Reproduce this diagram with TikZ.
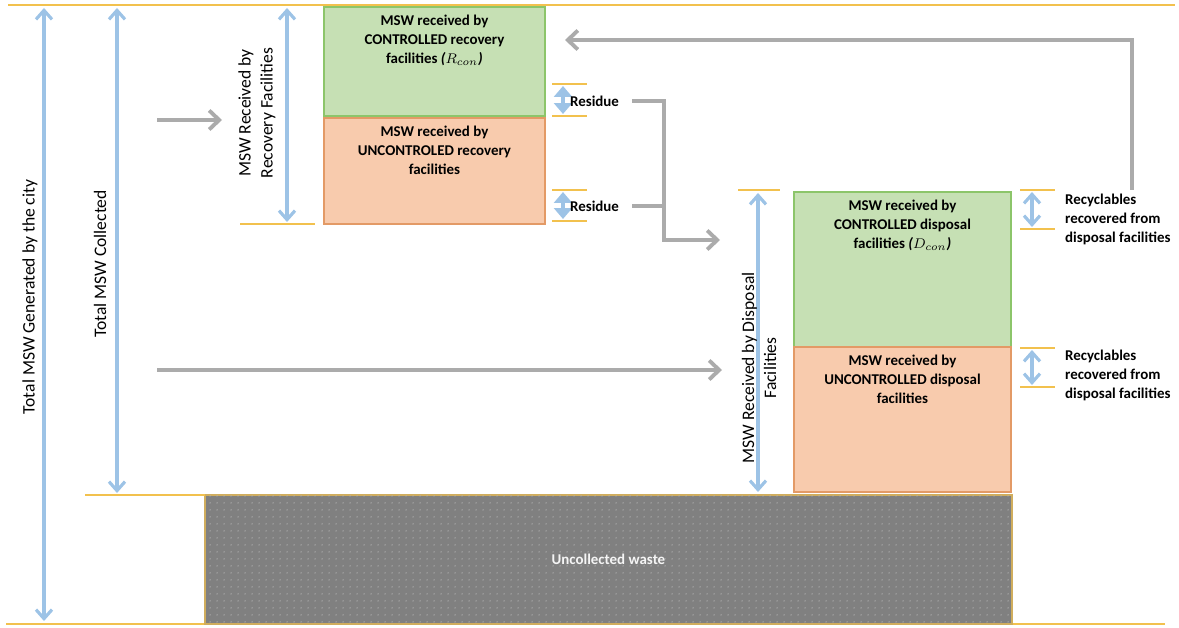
\documentclass[tikz,border=0pt]{standalone}
\usepackage{fontspec}
\setmainfont{Carlito}
\usetikzlibrary{arrows.meta,positioning,patterns.meta}
\definecolor{sizeblue}{HTML}{9DC3E6}
\definecolor{limityellow}{HTML}{F2C14E}
\definecolor{flowgray}{HTML}{ABABAB}
\definecolor{ctrlfill}{HTML}{C6E0B4}
\definecolor{ctrldraw}{HTML}{8CC56A}
\definecolor{unctrlfill}{HTML}{F8CBAD}
\definecolor{unctrldraw}{HTML}{E39A66}
\definecolor{wastefill}{HTML}{808080}
\tikzset{
  limit/.style={limityellow, line width=1.3pt},
  span/.style={sizeblue, line width=1.8pt,
    {Straight Barb[length=1.8mm,width=3.2mm]}-{Straight Barb[length=1.8mm,width=3.2mm]}},
  smallspan/.style={sizeblue, line width=1.8pt,
    {Triangle[length=2.2mm,width=3.6mm]}-{Triangle[length=2.2mm,width=3.6mm]}},
  flow/.style={flowgray, line width=2.2pt, -{Straight Barb[length=2mm,width=3.8mm]}},
  facility/.style={inner sep=0pt, outer sep=0pt, line width=0.8pt, anchor=north west},
  ctrlbox/.style={facility, draw=ctrldraw, fill=ctrlfill},
  unctrlbox/.style={facility, draw=unctrldraw, fill=unctrlfill},
  boxtext/.style={font=\bfseries\fontsize{8.5}{10.8}\selectfont, align=center, inner sep=0pt},
  sidenote/.style={font=\bfseries\fontsize{8.5}{10.8}\selectfont, align=left, anchor=west, inner sep=1pt},
  sidetext/.style={font=\fontsize{10}{12.5}\selectfont, rotate=90, align=center, inner sep=0pt},
}

\begin{document}
\begin{tikzpicture}[x=0.02cm, y=-0.02cm]
  \useasboundingbox (0,0) rectangle (1179,628);

  % top and bottom limits
  \draw[limit] (8,5) -- (1175,5);
  \draw[limit] (6,624) -- (1165,624);

  % uncollected waste
  \node[facility, draw=limityellow!70!gray, fill=wastefill,
        minimum width=16.14cm, minimum height=2.58cm,
        postaction={pattern={Dots[distance=4pt,radius=0.45pt]}, pattern color=black!30}] (uncol) at (205,495) {};
  \node[boxtext, text=white!92!gray] (uncoltxt) at (uncol.center) {Uncollected waste};
  \draw[limit] (85,495) -- (uncol.north west);

  % recovery facilities
  \node[ctrlbox, minimum width=4.42cm, minimum height=2.18cm] (rcon) at (324,7) {};
  \node[unctrlbox, minimum width=4.42cm, minimum height=2.12cm] (runc) at (324,118) {};
  \node[boxtext, below=0.15cm of rcon.north] (rcontxt)
    {MSW received by\\CONTROLLED recovery\\facilities \textit{(}$R_{con}$\textit{)}};
  \node[boxtext, below=0.15cm of runc.north] (runctxt)
    {MSW received by\\UNCONTROLED recovery\\facilities};

  % disposal facilities
  \node[ctrlbox, minimum width=4.34cm, minimum height=3.1cm] (dcon) at (794,192) {};
  \node[unctrlbox, minimum width=4.34cm, minimum height=2.9cm] (dunc) at (794,347) {};
  \node[boxtext, below=0.15cm of dcon.north] (dcontxt)
    {MSW received by\\CONTROLLED disposal\\facilities \textit{(}$D_{con}$\textit{)}};
  \node[boxtext, below=0.15cm of dunc.north] (dunctxt)
    {MSW received by\\UNCONTROLLED disposal\\facilities};

  % size arrows
  \coordinate (gentop) at (44,8);   \coordinate (genbot) at (44,621);
  \coordinate (coltop) at (117,8);  \coordinate (colbot) at (117,493);
  \coordinate (rectop) at (287,8);  \coordinate (recbot) at (287,222);
  \coordinate (distop) at (758,193); \coordinate (disbot) at (758,492);
  \draw[span] (gentop) -- (genbot);
  \draw[span] (coltop) -- (colbot);
  \draw[span] (rectop) -- (recbot);
  \draw[span] (distop) -- (disbot);
  \draw[limit] (240,224) -- (315,224);
  \draw[limit] (738,190) -- (780,190);

  \node[sidetext] (genlbl) at (30,297) {Total MSW Generated by the city};
  \node[sidetext] (collbl) at (100,264) {Total MSW Collected};
  \node[sidetext] (reclbl) at (257,113) {MSW Received by\\Recovery Facilities};
  \node[sidetext] (dislbl) at (759,368) {MSW Received by Disposal\\Facilities};

  % residues
  \draw[limit] (552,84) -- (587,84);
  \draw[limit] (552,116) -- (587,116);
  \draw[limit] (552,190) -- (587,190);
  \draw[limit] (552,221) -- (587,221);
  \coordinate (res1top) at (563,86);  \coordinate (res1bot) at (563,114);
  \coordinate (res2top) at (563,192); \coordinate (res2bot) at (563,219);
  \draw[smallspan] (res1top) -- (res1bot);
  \draw[smallspan] (res2top) -- (res2bot);
  \node[sidenote] (res1) at (568,101) {Residue};
  \node[sidenote] (res2) at (568,206) {Residue};

  % recyclables
  \draw[limit] (1020,190) -- (1055,190);
  \draw[limit] (1020,229) -- (1055,229);
  \draw[limit] (1020,348) -- (1055,348);
  \draw[limit] (1020,387) -- (1055,387);
  \coordinate (rcy1top) at (1032,192); \coordinate (rcy1bot) at (1032,227);
  \coordinate (rcy2top) at (1032,350); \coordinate (rcy2bot) at (1032,385);
  \draw[span] (rcy1top) -- (rcy1bot);
  \draw[span] (rcy2top) -- (rcy2bot);
  \node[sidenote] (rcy1) at (1063,219) {Recyclables\\recovered from\\disposal facilities};
  \node[sidenote] (rcy2) at (1063,375) {Recyclables\\recovered from\\disposal facilities};

  % flows
  \coordinate (recin) at (157,120);  \coordinate (recend) at (222,120);
  \coordinate (disin) at (157,370);  \coordinate (disend) at (722,370);
  \coordinate (resbend) at (664,101); \coordinate (resend) at (720,240);
  \coordinate (fbstart) at (1132,190); \coordinate (fbend) at (565,40);
  \draw[flow] (recin) -- (recend);
  \draw[flow] (disin) -- (disend);
  \draw[flow] ([xshift=0.22cm]res1.east) -- (resbend) |- (resend);
  \draw[flow, -] ([xshift=0.22cm]res2.east) -- (resbend |- res2.east);
  \draw[flow] (fbstart) |- (fbend);
\end{tikzpicture}
\end{document}
